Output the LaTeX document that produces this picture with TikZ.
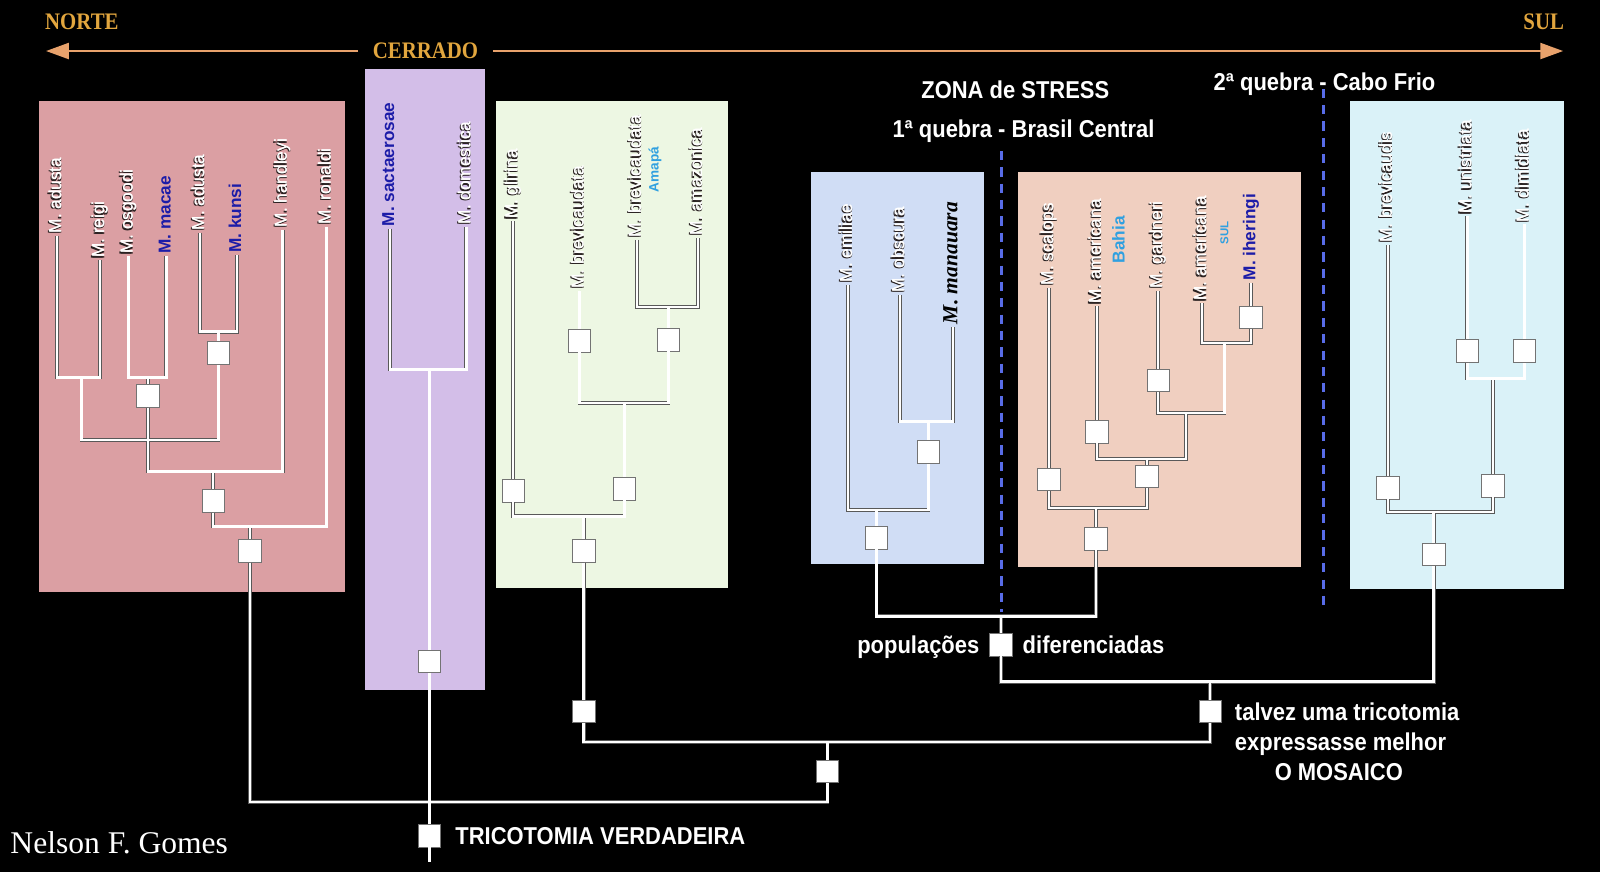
\documentclass[tikz,border=0pt]{standalone}
\usepackage{fontspec}
\setmainfont{Liberation Serif}
\setsansfont{Liberation Sans}
\newfontfamily\narrowsans[FakeStretch=0.9]{Liberation Sans}
\newfontfamily\narrowserif[FakeStretch=0.88]{Liberation Serif}
\usetikzlibrary{arrows.meta}
\definecolor{geocol}{RGB}{232,162,108}
\definecolor{geotext}{RGB}{226,166,62}
\definecolor{pinkcol}{RGB}{219,159,163}
\definecolor{purplecol}{RGB}{211,190,232}
\definecolor{greencol}{RGB}{237,247,227}
\definecolor{bluecol}{RGB}{208,221,245}
\definecolor{peachcol}{RGB}{240,207,192}
\definecolor{cyancol}{RGB}{218,242,248}
\definecolor{breakcol}{RGB}{88,108,232}
\definecolor{taxblue}{RGB}{28,28,168}
\definecolor{loccol}{RGB}{48,160,224}
\definecolor{shadecol}{RGB}{40,32,32}

% white name with a dark shadow
\newcommand{\emb}[1]{%
  \makebox[0pt][l]{\hspace*{-1pt}\raisebox{1pt}{\textcolor{shadecol}{#1}}}%
  \makebox[0pt][l]{\hspace*{-1pt}\textcolor{shadecol}{#1}}%
  \makebox[0pt][l]{\raisebox{0.3pt}{#1}}#1}

\begin{document}
\begin{tikzpicture}[
    x=0.025cm, y=-0.025cm,
    taxon/.style={rotate=90, anchor=west, inner sep=1.5pt, text=white,
      text height=1.6ex, text depth=0.3ex, font=\sffamily\fontsize{12}{12}\selectfont},
    taxonblue/.style={taxon, text=taxblue, font=\sffamily\bfseries\fontsize{12}{12}\selectfont},
    locality/.style={rotate=90, inner sep=0pt, text=loccol, font=\sffamily\bfseries},
    nodebox/.style={rectangle, fill=white, draw=black!55, line width=0.5pt,
      minimum width=0.55cm, minimum height=0.55cm, inner sep=0pt},
    branch/.style={draw=white, line width=1.7pt, preaction={draw=black!65, line width=2.6pt}},
    note/.style={text=white, inner sep=0pt, font=\narrowsans\bfseries\fontsize{17}{21}\selectfont},
    geo/.style={text=geotext, inner sep=0pt, font=\narrowserif\bfseries\fontsize{16.5}{16.5}\selectfont},
    breakline/.style={breakcol, line width=2.1pt, dash pattern=on 6.4pt off 5pt}
  ]

  % --- background and clade panels ------------------------------------
  \fill[black] (0,0) rectangle (1568,855);
  \fill[pinkcol]   (38,99)   rectangle (338,580);
  \fill[purplecol] (358,68)  rectangle (475,676);
  \fill[greencol]  (486,99)  rectangle (713,576);
  \fill[bluecol]   (795,169) rectangle (964,553);
  \fill[peachcol]  (998,169) rectangle (1275,556);
  \fill[cyancol]   (1323,99) rectangle (1533,577);

  % --- breaks ------------------------------------------------------------
  \draw[breakline] (981,148) -- (981,600);
  \draw[breakline] (1297,87) -- (1297,596);

  % --- north / south axis -------------------------------------------------
  \coordinate (northTip) at (45,50);
  \coordinate (southTip) at (1532,50);
  \node[geo, inner xsep=10pt] (cerrado) at (417,50) {CERRADO};
  \node[geo, anchor=base west] (norte) at (44,29) {NORTE};
  \node[geo, anchor=base east] (sul) at (1533,29) {SUL};
  \draw[geocol, line width=2pt, -{Triangle[length=16pt, width=11pt]}] (cerrado.west) -- (northTip);
  \draw[geocol, line width=2pt, -{Triangle[length=16pt, width=11pt]}] (cerrado.east) -- (southTip);

  % --- taxa ----------------------------------------------------------------
  \node[taxon]     (adusta1)  at (56,231)  {\emb{M. adusta}};
  \node[taxon]     (reigi)    at (98,255)  {\emb{M. reigi}};
  \node[taxon]     (osgoodi)  at (126,251) {\emb{M. osgoodi}};
  \node[taxonblue] (macae)    at (163,251) {M. macae};
  \node[taxon]     (adusta2)  at (196,228) {\emb{M. adusta}};
  \node[taxonblue] (kunsi)    at (232,250) {M. kunsi};
  \node[taxon]     (handleyi) at (277,225) {\emb{M. handleyi}};
  \node[taxon]     (ronaldi)  at (320,222) {\emb{M. ronaldi}};

  \node[taxonblue] (sactae)    at (382,224) {M. sactaerosae};
  \node[taxon]     (domestica) at (457,222) {\emb{M. domestica}};

  \node[taxon] (glirina)   at (503,217) {\emb{M. glirina}};
  \node[taxon] (brevic)    at (568,285) {\emb{M. brevicaudata}};
  \node[taxon] (brevA)     at (624,235) {\emb{M. brevicaudata}};
  \node[taxon] (amazonica) at (684,233) {\emb{M. amazonica}};
  \node[locality, font=\sffamily\bfseries\fontsize{9.5}{10}\selectfont] (amapa) at (642,166) {Amapá};

  \node[taxon] (emiliae)  at (831,279) {\emb{M. emiliae}};
  \node[taxon] (obscura)  at (882,289) {\emb{M. obscura}};
  \node[taxon, text=black, font=\rmfamily\bfseries\itshape\fontsize{15}{15}\selectfont] (manauara) at (934,320) {M. manauara};

  \node[taxon]     (scalops)   at (1028,282) {\emb{M. scalops}};
  \node[taxon]     (amerBahia) at (1075,300) {\emb{M. americana}};
  \node[taxon]     (gardneri)  at (1135,285) {\emb{M. gardneri}};
  \node[taxon]     (amerSul)   at (1178,297) {\emb{M. americana}};
  \node[taxonblue] (iheringi)  at (1226,277) {M. iheringi};
  \node[locality, font=\sffamily\bfseries\fontsize{12}{12}\selectfont] (bahia) at (1096,235) {Bahia};
  \node[locality, font=\sffamily\bfseries\fontsize{8}{8}\selectfont] (sulpop) at (1200,228) {SUL};

  \node[taxon] (brevicaudis) at (1360,240) {\emb{M. brevicaudis}};
  \node[taxon] (unistriata)  at (1438,212) {\emb{M. unistriata}};
  \node[taxon] (dimidiata)   at (1494,220) {\emb{M. dimidiata}};

  % --- junctions -------------------------------------------------------------
  \coordinate (jAR)  at (80,370);
  \coordinate (jOM)  at (145,370);
  \coordinate (jAK)  at (214,325);
  \coordinate (jX)   at (147,431);
  \coordinate (jH)   at (209,462);
  \coordinate (jR)   at (245,516);
  \coordinate (jLow) at (528,786);
  \coordinate (jPur) at (421,362);
  \coordinate (rootEnd) at (421,845);
  \coordinate (jAA)  at (655,301);
  \coordinate (jG1)  at (612,395);
  \coordinate (jG2)  at (572,506);
  \coordinate (jMid) at (811,727);
  \coordinate (jOB)  at (910,413);
  \coordinate (jB)   at (859,500);
  \coordinate (jS)   at (1200,336);
  \coordinate (jP1)  at (1162,405);
  \coordinate (jP2)  at (1124,450);
  \coordinate (jP3)  at (1074,498);
  \coordinate (jPop) at (981,604);
  \coordinate (jC1)  at (1463,371);
  \coordinate (jC2)  at (1405,502);
  \coordinate (jTal) at (1186,668);

  % --- nodes (squares) ----------------------------------------------------
  \node[nodebox] (nAK) at (214,346) {};
  \node[nodebox] (nOM) at (145,388) {};
  \node[nodebox] (nH)  at (209,491) {};
  \node[nodebox] (nR)  at (245,540) {};
  \node[nodebox] (nPur)  at (421,648) {};
  \node[nodebox] (nRoot) at (421,819) {};
  \node[nodebox] (nLow)  at (811,756) {};
  \node[nodebox] (nAA) at (655,333) {};
  \node[nodebox] (nBr) at (568,334) {};
  \node[nodebox] (nG1) at (612,479) {};
  \node[nodebox] (nGl) at (503,481) {};
  \node[nodebox] (nGRoot) at (572,540) {};
  \node[nodebox] (nGStem) at (572,697) {};
  \node[nodebox] (nOB)   at (910,443) {};
  \node[nodebox] (nBlue) at (859,527) {};
  \node[nodebox] (nIh) at (1226,311) {};
  \node[nodebox] (nGa) at (1135,373) {};
  \node[nodebox] (nAB) at (1075,423) {};
  \node[nodebox] (nP2) at (1124,467) {};
  \node[nodebox] (nSc) at (1028,470) {};
  \node[nodebox] (nPeach) at (1074,528) {};
  \node[nodebox] (nPop)   at (981,632) {};
  \node[nodebox] (nUn) at (1438,344) {};
  \node[nodebox] (nDi) at (1494,344) {};
  \node[nodebox] (nC1) at (1463,476) {};
  \node[nodebox] (nBv) at (1360,478) {};
  \node[nodebox] (nCyan)   at (1405,543) {};
  \node[nodebox] (nTalvez) at (1186,697) {};

  % --- branches -----------------------------------------------------------
  \draw[branch]
    (adusta1.west) |- (jAR) -| (reigi.west)
    (osgoodi.west) |- (jOM) -| (macae.west)
    (adusta2.west) |- (jAK) -| (kunsi.west)
    (jAK) -- (nAK)  (jOM) -- (nOM)
    (jAR) |- (jX) -| (nAK)
    (nOM) |- (jH) -| (handleyi.west)
    (jH) -- (nH)
    (nH) |- (jR) -| (ronaldi.west)
    (jR) -- (nR)
    (nR) |- (jLow) -| (nLow)
    (sactae.west) |- (jPur) -| (domestica.west)
    (jPur) -- (nPur)  (nPur) -- (nRoot)  (nRoot) -- (rootEnd)
    (brevA.west) |- (jAA) -| (amazonica.west)
    (jAA) -- (nAA)
    (brevic.west) -- (nBr)
    (nBr) |- (jG1) -| (nAA)
    (jG1) -- (nG1)
    (glirina.west) -- (nGl)
    (nGl) |- (jG2) -| (nG1)
    (jG2) -- (nGRoot)  (nGRoot) -- (nGStem)
    (nGStem) |- (jMid) -| (nTalvez)
    (nLow) -- (jMid)
    (obscura.west) |- (jOB) -| (manauara.west)
    (jOB) -- (nOB)
    (emiliae.west) |- (jB) -| (nOB)
    (jB) -- (nBlue)
    (iheringi.west) -- (nIh)
    (amerSul.west) |- (jS) -| (nIh)
    (gardneri.west) -- (nGa)
    (nGa) |- (jP1) -| (jS)
    (amerBahia.west) -- (nAB)
    (nAB) |- (jP2) -| (jP1)
    (jP2) -- (nP2)
    (scalops.west) -- (nSc)
    (nSc) |- (jP3) -| (nP2)
    (jP3) -- (nPeach)
    (nBlue) |- (jPop) -| (nPeach)
    (jPop) -- (nPop)
    (unistriata.west) -- (nUn)
    (dimidiata.west) -- (nDi)
    (nUn) |- (jC1) -| (nDi)
    (jC1) -- (nC1)
    (brevicaudis.west) -- (nBv)
    (nBv) |- (jC2) -| (nC1)
    (jC2) -- (nCyan)
    (nPop) |- (jTal) -| (nCyan)
    (jTal) -- (nTalvez);

  % --- notes ----------------------------------------------------------------
  \node[note, anchor=base] (zona)    at (995,97)   {ZONA de STRESS};
  \node[note, anchor=base] (quebra1) at (1003,135) {1ª quebra - Brasil Central};
  \node[note, anchor=base] (quebra2) at (1298,89)  {2ª quebra - Cabo Frio};
  \node[note, anchor=base east] (popul) at (960,640)  {populações};
  \node[note, anchor=base west] (difer) at (1002,640) {diferenciadas};
  \node[note, anchor=base west] (talvez1) at (1210,706) {talvez uma tricotomia};
  \node[note, anchor=base west] (talvez2) at (1210,735) {expressasse melhor};
  \node[note, anchor=base west] (talvez3) at (1249,765) {O MOSAICO};
  \node[note, anchor=base west] (tricot)  at (446,828)  {TRICOTOMIA VERDADEIRA};
  \node[anchor=base west, text=white, inner sep=0pt, font=\rmfamily\fontsize{22}{22}\selectfont] (author) at (10,836) {Nelson F. Gomes};

\end{tikzpicture}
\end{document}
